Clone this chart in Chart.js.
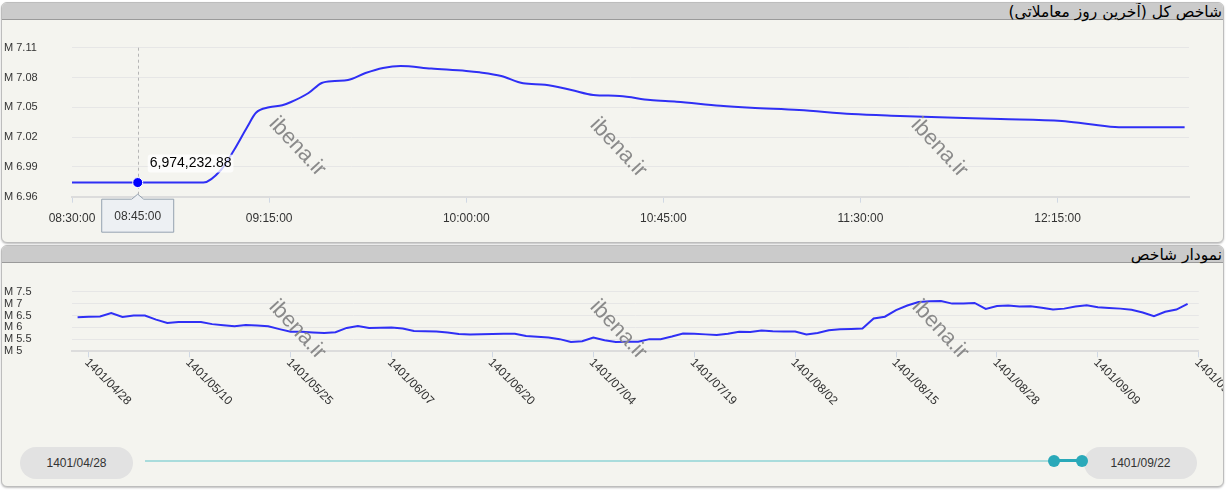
<!DOCTYPE html>
<html lang="fa">
<head>
<meta charset="utf-8">
<title>شاخص کل</title>
<script src="https://cdn.jsdelivr.net/npm/chart.js@4.4.0/dist/chart.umd.min.js"></script>
<style>
  body { margin: 0; width: 1229px; height: 491px; position: relative; overflow: hidden; background: #fff; font-family: "Liberation Sans", Arial, sans-serif; }
  .panel { position: absolute; left: 1px; width: 1223px; box-sizing: border-box; border: 1px solid #bdbdbd; border-radius: 6px; background: #f4f4ef; box-shadow: 0 1px 2px rgba(0,0,0,.25); overflow: hidden; }
  .head { height: 16px; line-height: 16px; background: #cbcbcb; border-bottom: 1px solid #9a9a9a; direction: rtl; text-align: right; padding-right: 1px; font: 15.5px "DejaVu Sans", sans-serif; color: #000; white-space: nowrap; }
  canvas { position: absolute; left: 2px; }
  .mark { position: absolute; font-size: 22px; color: #8a8a8a; transform: translate(-50%, -50%) rotate(47deg); white-space: nowrap; pointer-events: none; }
  .pill { position: absolute; top: 447px; width: 113px; height: 32px; line-height: 32px; border-radius: 16px; background: #e2e2e2; text-align: center; font-size: 12px; color: #333; }
  .knob { position: absolute; top: 455px; width: 12px; height: 12px; border-radius: 50%; background: #2aa9b9; }
</style>
</head>
<body>
<div class="panel" style="top:2px;height:241px"><div class="head">شاخص کل (آخرین روز معاملاتی)</div></div>
<div class="panel" style="top:245px;height:242px"><div class="head">نمودار شاخص</div></div>

<canvas id="dayChart" width="1221" height="221" style="top:20px"></canvas>
<canvas id="histChart" width="1221" height="175" style="top:264px"></canvas>

<span class="mark" style="left:298px;top:146px">ibena.ir</span>
<span class="mark" style="left:619px;top:147px">ibena.ir</span>
<span class="mark" style="left:940px;top:147px">ibena.ir</span>
<span class="mark" style="left:298px;top:329px">ibena.ir</span>
<span class="mark" style="left:619px;top:329px">ibena.ir</span>
<span class="mark" style="left:941px;top:329px">ibena.ir</span>

<div id="pillStart" class="pill" style="left:20px"></div>
<div id="pillEnd" class="pill" style="left:1084px"></div>
<div style="position:absolute;left:145px;top:460px;width:909px;height:2px;background:#a9dcdc"></div>
<div style="position:absolute;left:1054px;top:459px;width:28px;height:3px;background:#2aa9b9"></div>
<div class="knob" style="left:1048px"></div>
<div class="knob" style="left:1076px"></div>

<script>
// last trading day (intraday)
const dayTimes = ['08:30', '08:45', '09:00', '09:04', '09:07', '09:10', '09:12', '09:15', '09:18', '09:20',
    '09:24', '09:27', '09:30', '09:33', '09:37', '09:41', '09:45', '09:52', '10:00', '10:03',
    '10:08', '10:13', '10:18', '10:24', '10:29', '10:35', '10:42', '10:48', '10:58', '11:05',
    '11:16', '11:28', '11:39', '11:48', '12:02', '12:16', '12:22', '12:29', '12:44'];
const dayValues = [6974232.88, 6974232.88, 6974232.88, 6986900, 7007000, 7030200, 7044500, 7050000, 7052000, 7055300,
    7064400, 7074500, 7076500, 7077500, 7084500, 7089600, 7091600, 7089000, 7086600, 7085200,
    7081500, 7074200, 7072800, 7067400, 7062400, 7061400, 7057300, 7055600, 7051600, 7049600,
    7047300, 7043300, 7041300, 7039900, 7038200, 7036200, 7033200, 7029900, 7029900];
const dayTicks = ['08:30', '09:15', '10:00', '10:45', '11:30', '12:15'];
const dayEnd = '12:45';
const hoverTime = '08:45';

// index history, million units, one value per trading day
const histValues = [6.43, 6.45, 6.46, 6.60, 6.44, 6.50, 6.50, 6.33, 6.19, 6.23,
    6.23, 6.23, 6.14, 6.09, 6.05, 6.10, 6.08, 6.05, 5.93, 5.82,
    5.82, 5.79, 5.77, 5.80, 5.98, 6.06, 5.98, 5.99, 6.00, 5.96,
    5.85, 5.84, 5.83, 5.79, 5.73, 5.70, 5.71, 5.73, 5.74, 5.74,
    5.64, 5.61, 5.58, 5.51, 5.39, 5.42, 5.58, 5.46, 5.39, 5.40,
    5.40, 5.51, 5.51, 5.62, 5.75, 5.74, 5.71, 5.68, 5.74, 5.82,
    5.81, 5.87, 5.84, 5.83, 5.83, 5.71, 5.77, 5.88, 5.92, 5.94,
    5.96, 6.38, 6.45, 6.73, 6.92, 7.07, 7.10, 7.11, 7.00, 7.00,
    7.03, 6.78, 6.90, 6.92, 6.88, 6.89, 6.83, 6.75, 6.79, 6.88,
    6.93, 6.85, 6.82, 6.79, 6.74, 6.63, 6.47, 6.66, 6.75, 6.99];
const histTicks = ['1401/04/28', '1401/05/10', '1401/05/25', '1401/06/07', '1401/06/20', '1401/07/04',
    '1401/07/19', '1401/08/02', '1401/08/15', '1401/08/28', '1401/09/09', '1401/09/22'];
const histTickEvery = 9;

Chart.defaults.font.family = '"Liberation Sans", Arial, sans-serif';
Chart.defaults.color = '#333';

function toMin(t) {
    let [h, m] = t.split(':').map(Number);
    return h * 60 + m;
}

document.getElementById('pillStart').innerText = histTicks[0];
document.getElementById('pillEnd').innerText = histTicks[histTicks.length - 1];

// crosshair + tooltip on the 08:45 point
const hoverPlugin = {
    id: 'hoverPlugin',
    beforeDatasetsDraw(chart) {
        let i = dayTimes.indexOf(hoverTime);
        let pt = chart.getDatasetMeta(0).data[i];
        let ctx = chart.ctx;
        ctx.save();
        ctx.strokeStyle = '#b5b5b5';
        ctx.lineWidth = 1;
        ctx.setLineDash([3, 3]);
        ctx.beginPath();
        ctx.moveTo(Math.round(pt.x) + 0.5, chart.chartArea.top);
        ctx.lineTo(Math.round(pt.x) + 0.5, chart.chartArea.bottom);
        ctx.stroke();
        ctx.restore();
    },
    afterDraw(chart) {
        let i = dayTimes.indexOf(hoverTime);
        let pt = chart.getDatasetMeta(0).data[i];
        let ctx = chart.ctx;
        ctx.save();
        // value label
        let text = dayValues[i].toLocaleString('en-US', {minimumFractionDigits: 2, maximumFractionDigits: 2});
        ctx.font = '14px "Liberation Sans", Arial, sans-serif';
        let w = ctx.measureText(text).width;
        let tx = pt.x + 12, ty = pt.y - 19;
        ctx.fillStyle = 'rgba(255,255,255,0.75)';
        ctx.beginPath();
        ctx.roundRect(tx - 2, ty - 9, w + 4, 18, 3);
        ctx.fill();
        ctx.fillStyle = '#000';
        ctx.textBaseline = 'middle';
        ctx.fillText(text, tx, ty);
        // x label box
        let bx = pt.x - 36, by = chart.chartArea.bottom + 2.5, bw = 72, bh = 33;
        ctx.beginPath();
        ctx.moveTo(bx, by);
        ctx.lineTo(pt.x - 6, by);
        ctx.lineTo(pt.x, by - 5);
        ctx.lineTo(pt.x + 6, by);
        ctx.lineTo(bx + bw, by);
        ctx.lineTo(bx + bw, by + bh);
        ctx.lineTo(bx, by + bh);
        ctx.closePath();
        ctx.fillStyle = '#edf0f3';
        ctx.fill();
        ctx.strokeStyle = '#95a2b0';
        ctx.lineWidth = 1;
        ctx.stroke();
        ctx.fillStyle = '#333';
        ctx.font = '12px "Liberation Sans", Arial, sans-serif';
        ctx.textAlign = 'center';
        ctx.fillText(hoverTime + ':00', pt.x, by + bh / 2 + 0.5);
        ctx.restore();
    }
};

new Chart(document.getElementById('dayChart'), {
    type: 'line',
    data: {
        datasets: [{
            data: dayTimes.map((t, i) => ({x: toMin(t), y: dayValues[i]})),
            borderColor: '#2f2ff5',
            borderWidth: 2,
            tension: 0.4,
            cubicInterpolationMode: 'monotone',
            pointRadius: ctx => dayTimes[ctx.dataIndex] === hoverTime ? 5 : 0,
            pointBackgroundColor: '#0000ff',
            pointBorderColor: '#fff',
            pointBorderWidth: 1,
            fill: false
        }]
    },
    options: {
        responsive: false,
        animation: false,
        layout: {padding: {left: 2, top: 27.7, right: 34, bottom: 0}},
        plugins: {legend: {display: false}, tooltip: {enabled: false}},
        scales: {
            x: {
                type: 'linear',
                min: toMin(dayTicks[0]),
                max: toMin(dayEnd),
                afterBuildTicks: s => { s.ticks = dayTicks.map(t => ({value: toMin(t)})); },
                afterFit: s => { s.height = 44.3; },
                ticks: {callback: (v, i) => dayTicks[i] + ':00', font: {size: 12}, color: '#333', padding: 9, maxRotation: 0, autoSkip: false},
                grid: {drawOnChartArea: false, tickLength: 6, color: '#d0d8e4'},
                border: {color: '#dcdcdc', width: 2}
            },
            y: {
                min: 6960000,
                max: 7110000,
                afterFit: s => { s.width = 68; },
                ticks: {stepSize: 30000, callback: v => 'M ' + (v / 1e6).toFixed(2), crossAlign: 'far', font: {size: 11}, color: '#333'},
                grid: {color: '#e6e6e6', drawTicks: false},
                border: {display: false}
            }
        }
    },
    plugins: [hoverPlugin]
});

// rotated date labels under the history chart
const dateLabelPlugin = {
    id: 'dateLabels',
    afterDraw(chart) {
        let sc = chart.scales.x;
        let ctx = chart.ctx;
        ctx.save();
        ctx.font = '12px "Liberation Sans", Arial, sans-serif';
        ctx.fillStyle = '#333';
        ctx.textAlign = 'left';
        ctx.textBaseline = 'top';
        sc.ticks.forEach((t, k) => {
            ctx.save();
            ctx.translate(sc.getPixelForValue(t.value) + 2, sc.top + 5);
            ctx.rotate(Math.PI / 4);
            ctx.fillText(histTicks[k], 0, 0);
            ctx.restore();
        });
        ctx.restore();
    }
};

new Chart(document.getElementById('histChart'), {
    type: 'line',
    data: {
        datasets: [{
            data: histValues.map((v, i) => ({x: i, y: v})),
            borderColor: '#2f2ff5',
            borderWidth: 2,
            tension: 0,
            pointRadius: 0,
            fill: false
        }]
    },
    options: {
        responsive: false,
        animation: false,
        layout: {padding: {left: 2, top: 27.7, right: 24.2, bottom: 0}},
        plugins: {legend: {display: false}, tooltip: {enabled: false}},
        scales: {
            x: {
                type: 'linear',
                min: -0.5,
                max: histTickEvery * (histTicks.length - 1) + 1,
                afterBuildTicks: s => { s.ticks = histTicks.map((d, k) => ({value: 1 + histTickEvery * k})); },
                afterFit: s => { s.height = 87.7; },
                ticks: {display: false},
                grid: {drawOnChartArea: false, tickLength: 6, color: '#d0d8e4'},
                border: {color: '#dcdcdc', width: 2}
            },
            y: {
                min: 5,
                max: 7.5,
                afterFit: s => { s.width = 68; },
                ticks: {stepSize: 0.5, autoSkip: false, callback: v => 'M ' + v, crossAlign: 'far', font: {size: 11}, color: '#333'},
                grid: {color: '#e6e6e6', drawTicks: false},
                border: {display: false}
            }
        }
    },
    plugins: [dateLabelPlugin]
});
</script>
</body>
</html>
